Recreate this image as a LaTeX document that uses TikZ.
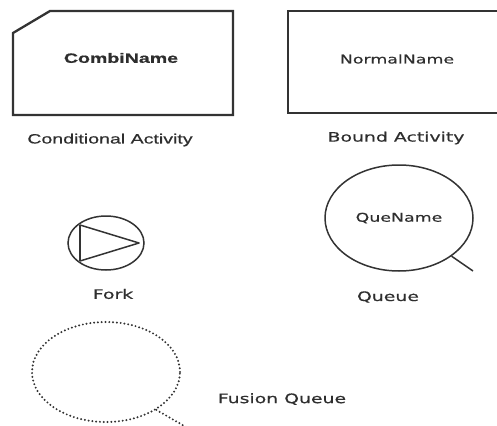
\documentclass[tikz,border=0pt]{standalone}
\usepackage{fontspec}
\usetikzlibrary{shapes.geometric}
\newfontfamily\arialwide[FakeStretch=1.45,FakeBold=0.6]{Liberation Sans}
\newfontfamily\arialwidebold[FakeStretch=1.45,FakeBold=0.8]{Liberation Sans Bold}
\newfontfamily\verdwide[FakeStretch=1.45,FakeBold=0.6]{DejaVu Sans}
\definecolor{ink}{HTML}{333333}
\definecolor{txt}{HTML}{2E2E2E}
\tikzset{
  boxline/.style={draw=ink, line width=2.3pt},
  thinline/.style={draw=ink, line width=1.5pt},
  dotline/.style={draw=ink, line width=2.2pt, line cap=round, dash pattern=on 0pt off 3.8pt},
  lbl/.style={text=txt, inner sep=0pt, font=\verdwide\fontsize{13}{15}\selectfont},
  inlbl/.style={text=txt, inner sep=0pt, font=\verdwide\fontsize{12}{14}\selectfont},
}
\begin{document}
\begin{tikzpicture}
\useasboundingbox (0pt,0pt) rectangle (497pt,-425pt);
% Conditional activity
\draw[boxline] (13pt,-33pt) -- (50pt,-11pt) -- (233pt,-11pt) -- (233pt,-115pt) -- (13pt,-115pt) -- cycle;
\node[text=txt, inner sep=0pt, font=\arialwidebold\fontsize{13.5}{15}\selectfont] (combi) at (121pt,-58pt) {CombiName};
\node[text=txt, inner sep=0pt, font=\arialwide\fontsize{13.5}{15}\selectfont] (condlbl) at (110pt,-140pt) {Conditional Activity};
% Bound activity
\draw[boxline] (497pt,-11pt) -- (288pt,-11pt) -- (288pt,-113pt) -- (497pt,-113pt);
\node[inlbl] (normal) at (397pt,-59pt) {NormalName};
\node[lbl] (boundlbl) at (396pt,-138pt) {Bound Activity};
% Fork
\node[thinline, ellipse, minimum width=76pt, minimum height=54pt, inner sep=0pt] (fork) at (106pt,-243pt) {};
\coordinate (fa) at (80pt,-225pt);
\coordinate (fb) at (80pt,-261pt);
\coordinate (fc) at (139pt,-243pt);
\draw[thinline, line join=round] (fa) -- (fc) -- (fb);
\draw[draw=ink, line width=2.4pt] (fa) -- (fb);
\node[lbl] (forklbl) at (113pt,-294pt) {Fork};
% Queue
\node[thinline, ellipse, minimum width=148pt, minimum height=106pt, inner sep=0pt, text=txt, font=\verdwide\fontsize{12}{14}\selectfont] (queue) at (399pt,-218pt) {QueName};
\coordinate (qtail) at (473pt,-271pt);
\draw[thinline] (queue.-36.7) -- (qtail);
\node[lbl] (queuelbl) at (388pt,-297pt) {Queue};
% Fusion queue
\node[dotline, ellipse, minimum width=148pt, minimum height=100pt, inner sep=0pt] (fusion) at (106pt,-372pt) {};
\coordinate (ftail) at (186pt,-427pt);
\draw[dotline] (fusion.-37) -- (ftail);
\node[lbl] (fusionlbl) at (282pt,-399pt) {Fusion Queue};
\end{tikzpicture}
\end{document}
